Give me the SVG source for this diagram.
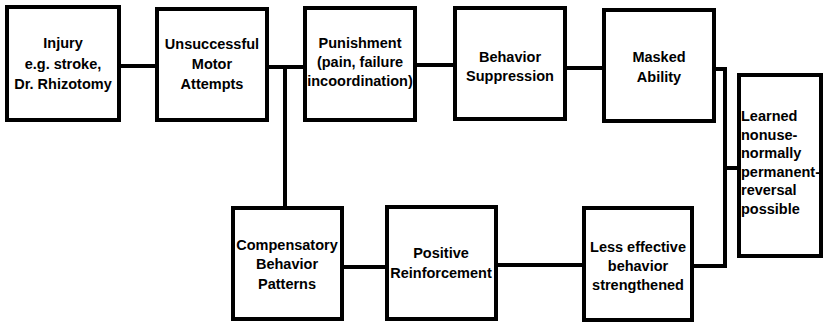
<svg xmlns="http://www.w3.org/2000/svg" width="825" height="325" viewBox="0 0 825 325">
  <style>
    .box { fill: #ffffff; stroke: #000000; stroke-width: 4; }
    .wire { fill: none; stroke: #000000; stroke-width: 4; stroke-linejoin: miter; }
    text { font-family: "Liberation Sans", Arial, Helvetica, sans-serif; font-weight: bold; font-size: 14.5px; fill: #000000; }
    .c { text-anchor: middle; }
  </style>
  <rect x="0" y="0" width="825" height="325" fill="#ffffff"/>

  <!-- connectors -->
  <g id="connectors">
    <line class="wire" x1="121" y1="66" x2="155" y2="66"/>
    <line class="wire" x1="269" y1="67" x2="303" y2="67"/>
    <line class="wire" x1="285" y1="67" x2="285" y2="206"/>
    <line class="wire" x1="417" y1="65" x2="453" y2="65"/>
    <line class="wire" x1="567" y1="68" x2="602" y2="68"/>
    <polyline class="wire" points="716,69 725,69 725,266 694,266"/>
    <line class="wire" x1="725" y1="168" x2="737" y2="168"/>
    <line class="wire" x1="344" y1="267" x2="385" y2="267"/>
    <line class="wire" x1="498" y1="265" x2="582" y2="265"/>
  </g>

  <g id="injury">
    <rect class="box" x="7" y="7" width="112" height="113"/>
    <text class="c" x="63" y="48">Injury</text>
    <text class="c" x="63" y="69">e.g. stroke,</text>
    <text class="c" x="63" y="89">Dr. Rhizotomy</text>
  </g>

  <g id="unsuccessful">
    <rect class="box" x="157" y="9" width="110" height="111"/>
    <text class="c" x="212" y="49">Unsuccessful</text>
    <text class="c" x="212" y="69">Motor</text>
    <text class="c" x="212" y="89">Attempts</text>
  </g>

  <g id="punishment">
    <rect class="box" x="305" y="8" width="110" height="112"/>
    <text class="c" x="360" y="48">Punishment</text>
    <text class="c" x="360" y="67">(pain, failure</text>
    <text class="c" x="360" y="86">incoordination)</text>
  </g>

  <g id="suppression">
    <rect class="box" x="455" y="8" width="110" height="111"/>
    <text class="c" x="510" y="62">Behavior</text>
    <text class="c" x="510" y="81">Suppression</text>
  </g>

  <g id="masked">
    <rect class="box" x="604" y="10" width="110" height="111"/>
    <text class="c" x="659" y="62">Masked</text>
    <text class="c" x="659" y="82">Ability</text>
  </g>

  <g id="learned">
    <rect class="box" x="739" y="75" width="82" height="181"/>
    <text x="741" y="121">Learned</text>
    <text x="741" y="140">nonuse-</text>
    <text x="741" y="158">normally</text>
    <text x="741" y="177">permanent-</text>
    <text x="741" y="195">reversal</text>
    <text x="741" y="214">possible</text>
  </g>

  <g id="compensatory">
    <rect class="box" x="233" y="208" width="109" height="111"/>
    <text class="c" x="287" y="250">Compensatory</text>
    <text class="c" x="287" y="269">Behavior</text>
    <text class="c" x="287" y="289">Patterns</text>
  </g>

  <g id="positive">
    <rect class="box" x="387" y="207" width="109" height="112"/>
    <text class="c" x="441" y="258">Positive</text>
    <text class="c" x="441" y="278">Reinforcement</text>
  </g>

  <g id="less-effective">
    <rect class="box" x="584" y="208" width="108" height="112"/>
    <text class="c" x="638" y="252">Less effective</text>
    <text class="c" x="638" y="271">behavior</text>
    <text class="c" x="638" y="290">strengthened</text>
  </g>
</svg>
